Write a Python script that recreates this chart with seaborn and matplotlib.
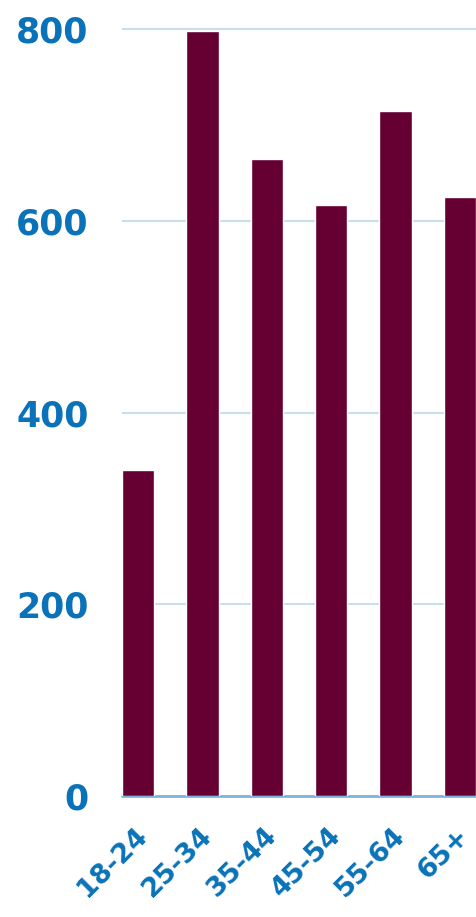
import matplotlib
matplotlib.use("Agg")
import matplotlib.pyplot as plt
import matplotlib.transforms as mtransforms
import seaborn as sns
import pandas as pd

# ─── Data ───────────────────────────────────────────────
age_groups = ["18-24", "25-34", "35-44", "45-54", "55-64", "65+"]
counts = [340, 798, 665, 617, 715, 625]
y_ticks = [0, 200, 400, 600, 800]

BAR_COLOR = "#660033"
TEXT_COLOR = "#0a72b8"
GRID_COLOR = "#c9dfec"

df = pd.DataFrame({"age": age_groups, "count": counts})

sns.set_style("white")
plt.rcParams["font.family"] = ["DejaVu Sans"]

fig = plt.figure(figsize=(4.77, 9.17), dpi=100)
ax = fig.add_axes([0.2558, 0.132, 0.7422, 0.839])

sns.barplot(data=df, x="age", y="count", color=BAR_COLOR, width=0.5,
            saturation=1, ax=ax, zorder=3)

ax.set_xlim(-0.25, 5.25)
ax.set_ylim(0, 803)
ax.set_yticks(y_ticks)
ax.set_yticklabels([str(v) for v in y_ticks])
ax.yaxis.grid(True, color=GRID_COLOR, linewidth=1.5, zorder=0)
ax.set_axisbelow(True)
ax.axhline(0, color="#7fb4dc", linewidth=2, zorder=2, clip_on=False)

for s in ax.spines.values():
    s.set_visible(False)

ax.set_xlabel("")
ax.set_ylabel("")
ax.tick_params(axis="y", length=0, pad=24, labelsize=25, labelcolor=TEXT_COLOR)
ax.tick_params(axis="x", length=0, pad=26, labelsize=19.5, labelcolor=TEXT_COLOR)
for lbl in ax.get_yticklabels():
    lbl.set_fontweight("bold")

offset = mtransforms.ScaledTranslation(4 / 72, 0, fig.dpi_scale_trans)
for lbl in ax.get_xticklabels():
    lbl.set_rotation(45)
    lbl.set_ha("right")
    lbl.set_va("center")
    lbl.set_rotation_mode("anchor")
    lbl.set_fontweight("bold")
    lbl.set_transform(lbl.get_transform() + offset)

fig.savefig("out.png", dpi=100)
